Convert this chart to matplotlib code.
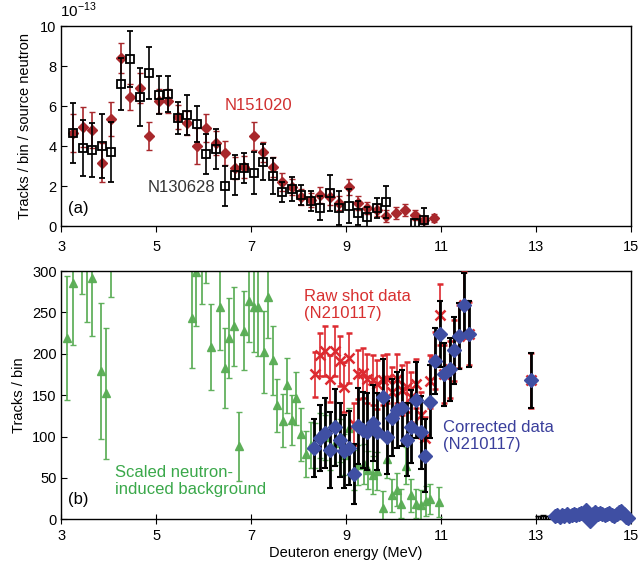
import matplotlib
matplotlib.use("Agg")
import matplotlib.pyplot as plt
from matplotlib.transforms import IdentityTransform

plt.rcParams['font.family'] = ['Liberation Sans', 'DejaVu Sans']
plt.rcParams['mathtext.fontset'] = 'custom'
plt.rcParams['mathtext.rm'] = 'Liberation Sans'

# ---- panel (a): tracks per bin per source neutron (units of 1e-13)
e_151020 = [3.25, 3.45, 3.65, 3.85, 4.05, 4.25, 4.45, 4.65, 4.85, 5.05,
            5.25, 5.45, 5.65, 5.85, 6.05, 6.25, 6.45, 6.65, 6.85, 7.05,
            7.25, 7.45, 7.65, 7.85, 8.05, 8.25, 8.45, 8.65, 8.85, 9.05,
            9.25, 9.45, 9.65, 9.85, 10.05, 10.25, 10.45, 10.65, 10.85]
v_151020 = [4.65, 4.93, 4.8, 3.17, 5.33, 8.42, 6.43, 6.92, 4.5, 6.27,
            6.27, 5.47, 5.17, 4.02, 4.88, 4.13, 3.63, 2.88, 2.93, 4.5,
            3.72, 2.97, 2.22, 1.97, 1.47, 1.3, 1.55, 1.47, 1.17, 1.97,
            1.17, 0.92, 0.8, 0.5, 0.63, 0.8, 0.55, 0.3, 0.38]
err_151020 = [0.95, 1.0, 0.9, 0.97, 0.85, 0.75, 0.65, 0.75, 0.72, 0.6,
              0.6, 0.6, 0.6, 0.9, 0.7, 0.6, 0.6, 0.55, 0.55, 0.72,
              0.5, 0.5, 0.45, 0.4, 0.4, 0.35, 0.4, 0.4, 0.35, 0.4,
              0.35, 0.3, 0.3, 0.3, 0.3, 0.3, 0.25, 0.2, 0.2]

e_130628 = [3.25, 3.45, 3.65, 3.85, 4.05, 4.25, 4.45, 4.65, 4.85, 5.05,
            5.25, 5.45, 5.65, 5.85, 6.05, 6.25, 6.45, 6.65, 6.85, 7.05,
            7.25, 7.45, 7.65, 7.85, 8.05, 8.25, 8.45, 8.65, 8.85, 9.05,
            9.25, 9.45, 9.65, 9.85, 10.45, 10.65]
v_130628 = [4.67, 3.92, 3.8, 4.0, 3.7, 7.1, 8.35, 6.47, 7.67, 6.55,
            6.6, 5.38, 5.55, 5.08, 3.58, 3.83, 2.02, 2.55, 2.88, 2.67,
            3.18, 2.52, 1.72, 1.83, 1.55, 1.27, 0.9, 1.65, 0.9, 1.02,
            0.63, 0.47, 0.92, 1.2, 0.17, 0.3]
err_130628 = [1.5, 1.4, 1.35, 1.6, 1.5, 1.3, 1.4, 1.45, 1.3, 0.95,
              0.9, 0.8, 1.0, 0.9, 1.0, 1.0, 1.0, 1.0, 0.75, 1.05,
              0.9, 0.9, 0.5, 0.6, 0.5, 0.5, 0.6, 0.9, 0.85, 0.85,
              0.6, 0.5, 0.5, 0.8, 0.2, 0.6]

# ---- panel (b): tracks per bin, shot N210117
e_bg = [3.12, 3.24, 3.43, 3.53, 3.64, 3.83, 3.94, 4.04,
        5.75, 5.84, 5.96, 6.05, 6.15, 6.34, 6.45, 6.54, 6.64, 6.75, 6.85, 6.95,
        7.05, 7.15, 7.26, 7.35, 7.46, 7.55, 7.66, 7.76, 7.86, 7.95,
        8.05, 8.15, 8.25, 8.35, 8.45, 8.56, 8.66, 8.76, 8.86, 8.96,
        9.07, 9.16, 9.26, 9.37, 9.46, 9.56, 9.66, 9.77, 9.86, 9.97,
        10.07, 10.16, 10.26, 10.37, 10.47, 10.58, 10.68, 10.77, 10.96]
v_bg = [219, 285, 330, 320, 291, 179, 152, 340,
        243, 299, 320, 350, 208, 257, 183, 219, 233, 88, 228, 264,
        257, 257, 202, 269, 192, 138, 119, 162, 120, 146,
        103, 79, 90, 89, 101, 99, 86, 92, 95, 78,
        110, 60, 66, 67, 60, 54, 58, 14, 73, 29,
        36, 19, 65, 29, 19, 17, 22, 25, 21]
err_bg = [75, 75, 58, 82, 70, 82, 79, 72,
          60, 65, 60, 65, 52, 52, 48, 48, 48, 42, 48, 50,
          55, 60, 50, 50, 42, 32, 32, 33, 30, 32,
          32, 28, 28, 27, 27, 27, 26, 26, 26, 25,
          25, 24, 24, 24, 23, 23, 23, 20, 23, 20,
          20, 18, 22, 20, 18, 18, 18, 18, 18]

e_raw = [8.35, 8.45, 8.56, 8.66, 8.76, 8.86, 8.96, 9.07, 9.16, 9.26,
         9.35, 9.45, 9.57, 9.66, 9.78, 9.87, 9.97, 10.07, 10.18, 10.28,
         10.37, 10.47, 10.58, 10.67, 10.77, 10.87, 10.97, 11.07, 11.18, 11.28,
         11.38, 11.48, 11.58, 12.89]
v_raw = [175, 199, 203, 170, 203, 191, 160, 195, 115, 175,
         177, 170, 168, 163, 168, 170, 154, 170, 156, 160,
         148, 164, 126, 98, 167, 192, 247, 175, 181, 204,
         221, 259, 224, 168]
err_raw = [27, 26, 30, 28, 30, 30, 30, 30, 25, 30,
           30, 30, 30, 30, 30, 30, 30, 30, 30, 30,
           30, 30, 28, 26, 32, 34, 37, 35, 35, 37,
           38, 40, 38, 33]

e_cor = [8.33, 8.45, 8.56, 8.66, 8.76, 8.86, 8.96, 9.07, 9.16, 9.26,
         9.35, 9.45, 9.57, 9.66, 9.78, 9.87, 9.97, 10.07, 10.18, 10.28,
         10.37, 10.47, 10.58, 10.67, 10.77, 10.87, 10.97, 11.07, 11.18, 11.28,
         11.38, 11.48, 11.58, 12.89,
         13.40, 13.45, 13.50, 13.55, 13.60, 13.65, 13.70, 13.75, 13.80, 13.85,
         13.90, 13.95, 14.00, 14.05, 14.10, 14.15, 14.20, 14.25, 14.30, 14.35,
         14.40, 14.45, 14.50, 14.55, 14.60, 14.65, 14.70, 14.75, 14.80, 14.85,
         14.90, 14.95]
v_cor = [86, 98, 104, 84, 111, 96, 82, 86, 55, 113,
         108, 106, 116, 106, 148, 99, 123, 132, 134, 96,
         112, 144, 105, 77, 142, 191, 224, 175, 181, 204,
         221, 259, 224, 168,
         4, 5, 3, 5, 4, 6, 4, 5, 6, 5,
         7, 8, 6, 11, 8, -2, 7, 9, 6, 8,
         7, 5, 6, 8, 5, 4, 7, 9, 10, 7,
         3, 2]
err_cor = [35, 40, 42, 46, 47, 45, 44, 45, 36, 46,
           46, 46, 46, 46, 46, 44, 46, 46, 46, 44,
           44, 46, 44, 44, 44, 40, 40, 38, 38, 40,
           40, 38, 40, 33,
           4, 4, 4, 4, 4, 4, 4, 4, 4, 4,
           4, 4, 4, 4, 4, 4, 4, 4, 4, 4,
           4, 4, 4, 4, 4, 4, 4, 4, 4, 4,
           4, 4]

e_low = [13.05, 13.15, 13.25]
v_low = [1, 2, 1]
err_low = [3, 3, 3]

xticks = [3, 5, 7, 9, 11, 13, 15]

red_dk = '#a8282c'
green = '#5aad55'
blue = '#3f4fa3'
red = '#dd2a30'

H = 566  # figure height in px, labels below are placed in image pixels

fig = plt.figure(figsize=(6.39, 5.66), dpi=100)
ax1 = fig.add_axes([0.0962, 0.6007, 0.891, 0.3533])
ax2 = fig.add_axes([0.0962, 0.0825, 0.891, 0.4387])


def pix_text(ax, x, y, s, **kw):
    ax.text(x, H - y, s, transform=IdentityTransform(), ha='left', va='center', **kw)


# panel (a)
ax1.errorbar(e_151020, v_151020, yerr=err_151020, fmt='D', ms=5, color=red_dk,
             ecolor=red_dk, elinewidth=1.2, capsize=2.5, zorder=2)
ax1.errorbar(e_130628, v_130628, yerr=err_130628, fmt='s', ms=6, mfc='none',
             mec='black', mew=1.3, ecolor='black', elinewidth=1.2, capsize=2.5,
             zorder=3)
ax1.set_xlim(3, 15)
ax1.set_ylim(0, 10)
ax1.set_xticks(xticks)
ax1.set_yticks([0, 2, 4, 6, 8, 10])
ax1.tick_params(axis='x', direction='out', length=4, labelsize=10.5, pad=6)
ax1.tick_params(axis='y', direction='in', length=4, labelsize=10.5)
ax1.set_ylabel('Tracks / bin / source neutron', fontsize=10.5, labelpad=6)
ax1.text(-0.002, 1.03, r'10$^{-13}$', transform=ax1.transAxes, fontsize=11,
         ha='left', va='bottom')
pix_text(ax1, 225, 105, 'N151020', color='#d03030', fontsize=12)
pix_text(ax1, 148, 187, 'N130628', color='#333333', fontsize=12)
ax1.text(0.012, 0.09, '(a)', transform=ax1.transAxes, fontsize=12,
         ha='left', va='center')

# panel (b)
ax2.errorbar(e_bg, v_bg, yerr=err_bg, fmt='^', ms=6, color=green, ecolor=green,
             elinewidth=1.3, capsize=2.5, zorder=2, alpha=0.95)
ax2.errorbar(e_raw, v_raw, yerr=err_raw, fmt='x', ms=7, mew=1.8, color=red,
             ecolor=red, elinewidth=1.2, capsize=2.5, zorder=3)
ax2.errorbar(e_low, v_low, yerr=err_low, fmt='s', ms=3, mfc='none', mec='black',
             ecolor='black', elinewidth=1, capsize=2, zorder=4)
cor = ax2.errorbar(e_cor, v_cor, yerr=err_cor, fmt='D', ms=7.5, color=blue,
                   ecolor='black', elinewidth=2, capsize=2.5, capthick=1.5,
                   zorder=5)
cor[0].set_clip_on(False)
ax2.set_xlim(3, 15)
ax2.set_ylim(0, 300)
ax2.set_xticks(xticks)
ax2.set_yticks([0, 50, 100, 150, 200, 250, 300])
ax2.tick_params(axis='x', direction='inout', length=7, labelsize=10.5)
ax2.tick_params(axis='y', direction='in', length=4, labelsize=10.5)
ax2.set_ylabel('Tracks / bin', fontsize=10.5, labelpad=4)
ax2.set_xlabel('Deuteron energy (MeV)', fontsize=10.5, labelpad=2)
ax2.text(0.012, 0.078, '(b)', transform=ax2.transAxes, fontsize=12,
         ha='left', va='center')
pix_text(ax2, 304, 305, 'Raw shot data\n(N210117)', color='#d83030',
         fontsize=12, linespacing=1.1)
pix_text(ax2, 443, 436, 'Corrected data\n(N210117)', color='#3a3f9c',
         fontsize=12, linespacing=1.1)
pix_text(ax2, 115, 481, 'Scaled neutron-\ninduced background', color='#3aa84a',
         fontsize=12, linespacing=1.1)

for ax in (ax1, ax2):
    for s in ax.spines.values():
        s.set_linewidth(1.0)

fig.savefig('out.png', dpi=100)
